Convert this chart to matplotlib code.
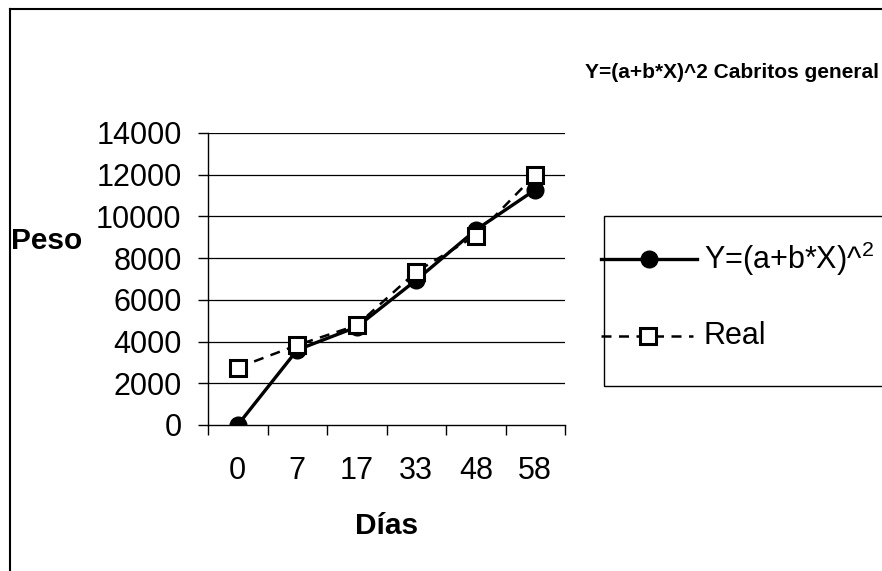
import matplotlib
matplotlib.use("Agg")
import matplotlib.pyplot as plt
from matplotlib.lines import Line2D
from matplotlib.patches import Rectangle
import numpy as np

plt.rcParams['font.family'] = ['Liberation Sans', 'DejaVu Sans']
plt.rcParams['mathtext.fontset'] = 'custom'
plt.rcParams['mathtext.rm'] = 'Liberation Sans'
plt.rcParams['mathtext.it'] = 'Liberation Sans'
plt.rcParams['mathtext.default'] = 'rm'

categories = ["0", "7", "17", "33", "48", "58"]
modelo = [0, 3600, 4700, 6950, 9350, 11280]
real = [2750, 3830, 4780, 7350, 9080, 12000]
yticks = [0, 2000, 4000, 6000, 8000, 10000, 12000, 14000]

W, H = 882, 571
fig = plt.figure(figsize=(W / 100, H / 100), dpi=100)

def fx(px):
    return px / W

def fy(py):
    return 1 - py / H

ax = fig.add_axes([fx(208), fy(425), fx(565) - fx(208), fy(133) - fy(425)])
x = np.arange(len(categories))

ax.plot(x, modelo, color='black', lw=2.4, marker='o', ms=12, mfc='black', mec='black', zorder=3)
ax.plot(x, real, color='black', lw=1.8, ls=(0, (4, 3)), marker='s', ms=12,
        mfc='white', mec='black', mew=2.2, zorder=4)

ax.set_xlim(-0.5, len(categories) - 0.5)
ax.set_ylim(0, 14000)
ax.set_yticks(yticks)
ax.set_yticklabels([str(v) for v in yticks], fontsize=22)
ax.set_xticks(x)
ax.set_xticklabels(categories, fontsize=22)
ax.set_xticks(np.arange(-0.5, len(categories)), minor=True)
ax.tick_params(axis='x', which='major', length=0, pad=22.5)
ax.tick_params(axis='x', which='minor', length=7, width=1, direction='out')
ax.tick_params(axis='y', which='major', length=7, width=1, direction='out', pad=12)

for v in yticks[1:]:
    ax.axhline(v, color='black', lw=0.9, zorder=1)

for s in ['top', 'right']:
    ax.spines[s].set_visible(False)
ax.spines['left'].set_linewidth(1)
ax.spines['bottom'].set_linewidth(1)

# Axis titles
fig.text(fx(11), fy(241), "Peso", fontsize=21.5, fontweight='bold', ha='left', va='center')
fig.text(fx(387), fy(526), "Días", fontsize=21.5, fontweight='bold', ha='center', va='center')
fig.text(fx(879), fy(72), "Y=(a+b*X)^2 Cabritos general", fontsize=15, fontweight='bold',
         ha='right', va='center')

# Chart border (left and top visible)
fig.add_artist(Line2D([fx(10), fx(10)], [fy(9), 0], color='black', lw=1.5, transform=fig.transFigure))
fig.add_artist(Line2D([fx(10), 1], [fy(9), fy(9)], color='black', lw=1.5, transform=fig.transFigure))

# Legend
fig.add_artist(Rectangle((fx(604), fy(386)), 1 - fx(604) + 0.05, fy(216) - fy(386),
                         transform=fig.transFigure, fill=False, ec='black', lw=1, zorder=5))
fig.add_artist(Line2D([fx(601), fx(697)], [fy(259), fy(259)], color='black', lw=2.4,
                      transform=fig.transFigure, zorder=6))
fig.add_artist(Line2D([fx(649)], [fy(259)], color='black', marker='o', ms=12, mfc='black',
                      mec='black', ls='none', transform=fig.transFigure, zorder=7))
fig.add_artist(Line2D([fx(601), fx(693)], [fy(336), fy(336)], color='black', lw=1.8,
                      ls=(0, (4, 3)), transform=fig.transFigure, zorder=6))
fig.add_artist(Line2D([fx(648)], [fy(336)], color='black', marker='s', ms=12, mfc='white',
                      mec='black', mew=2.2, ls='none', transform=fig.transFigure, zorder=7))
fig.text(fx(704), fy(259), "Y=(a+b*X)^$^{2}$", fontsize=22, ha='left', va='center', zorder=8)
fig.text(fx(704), fy(336), "Real", fontsize=22, ha='left', va='center', zorder=8)

fig.savefig("out.png", dpi=100)
